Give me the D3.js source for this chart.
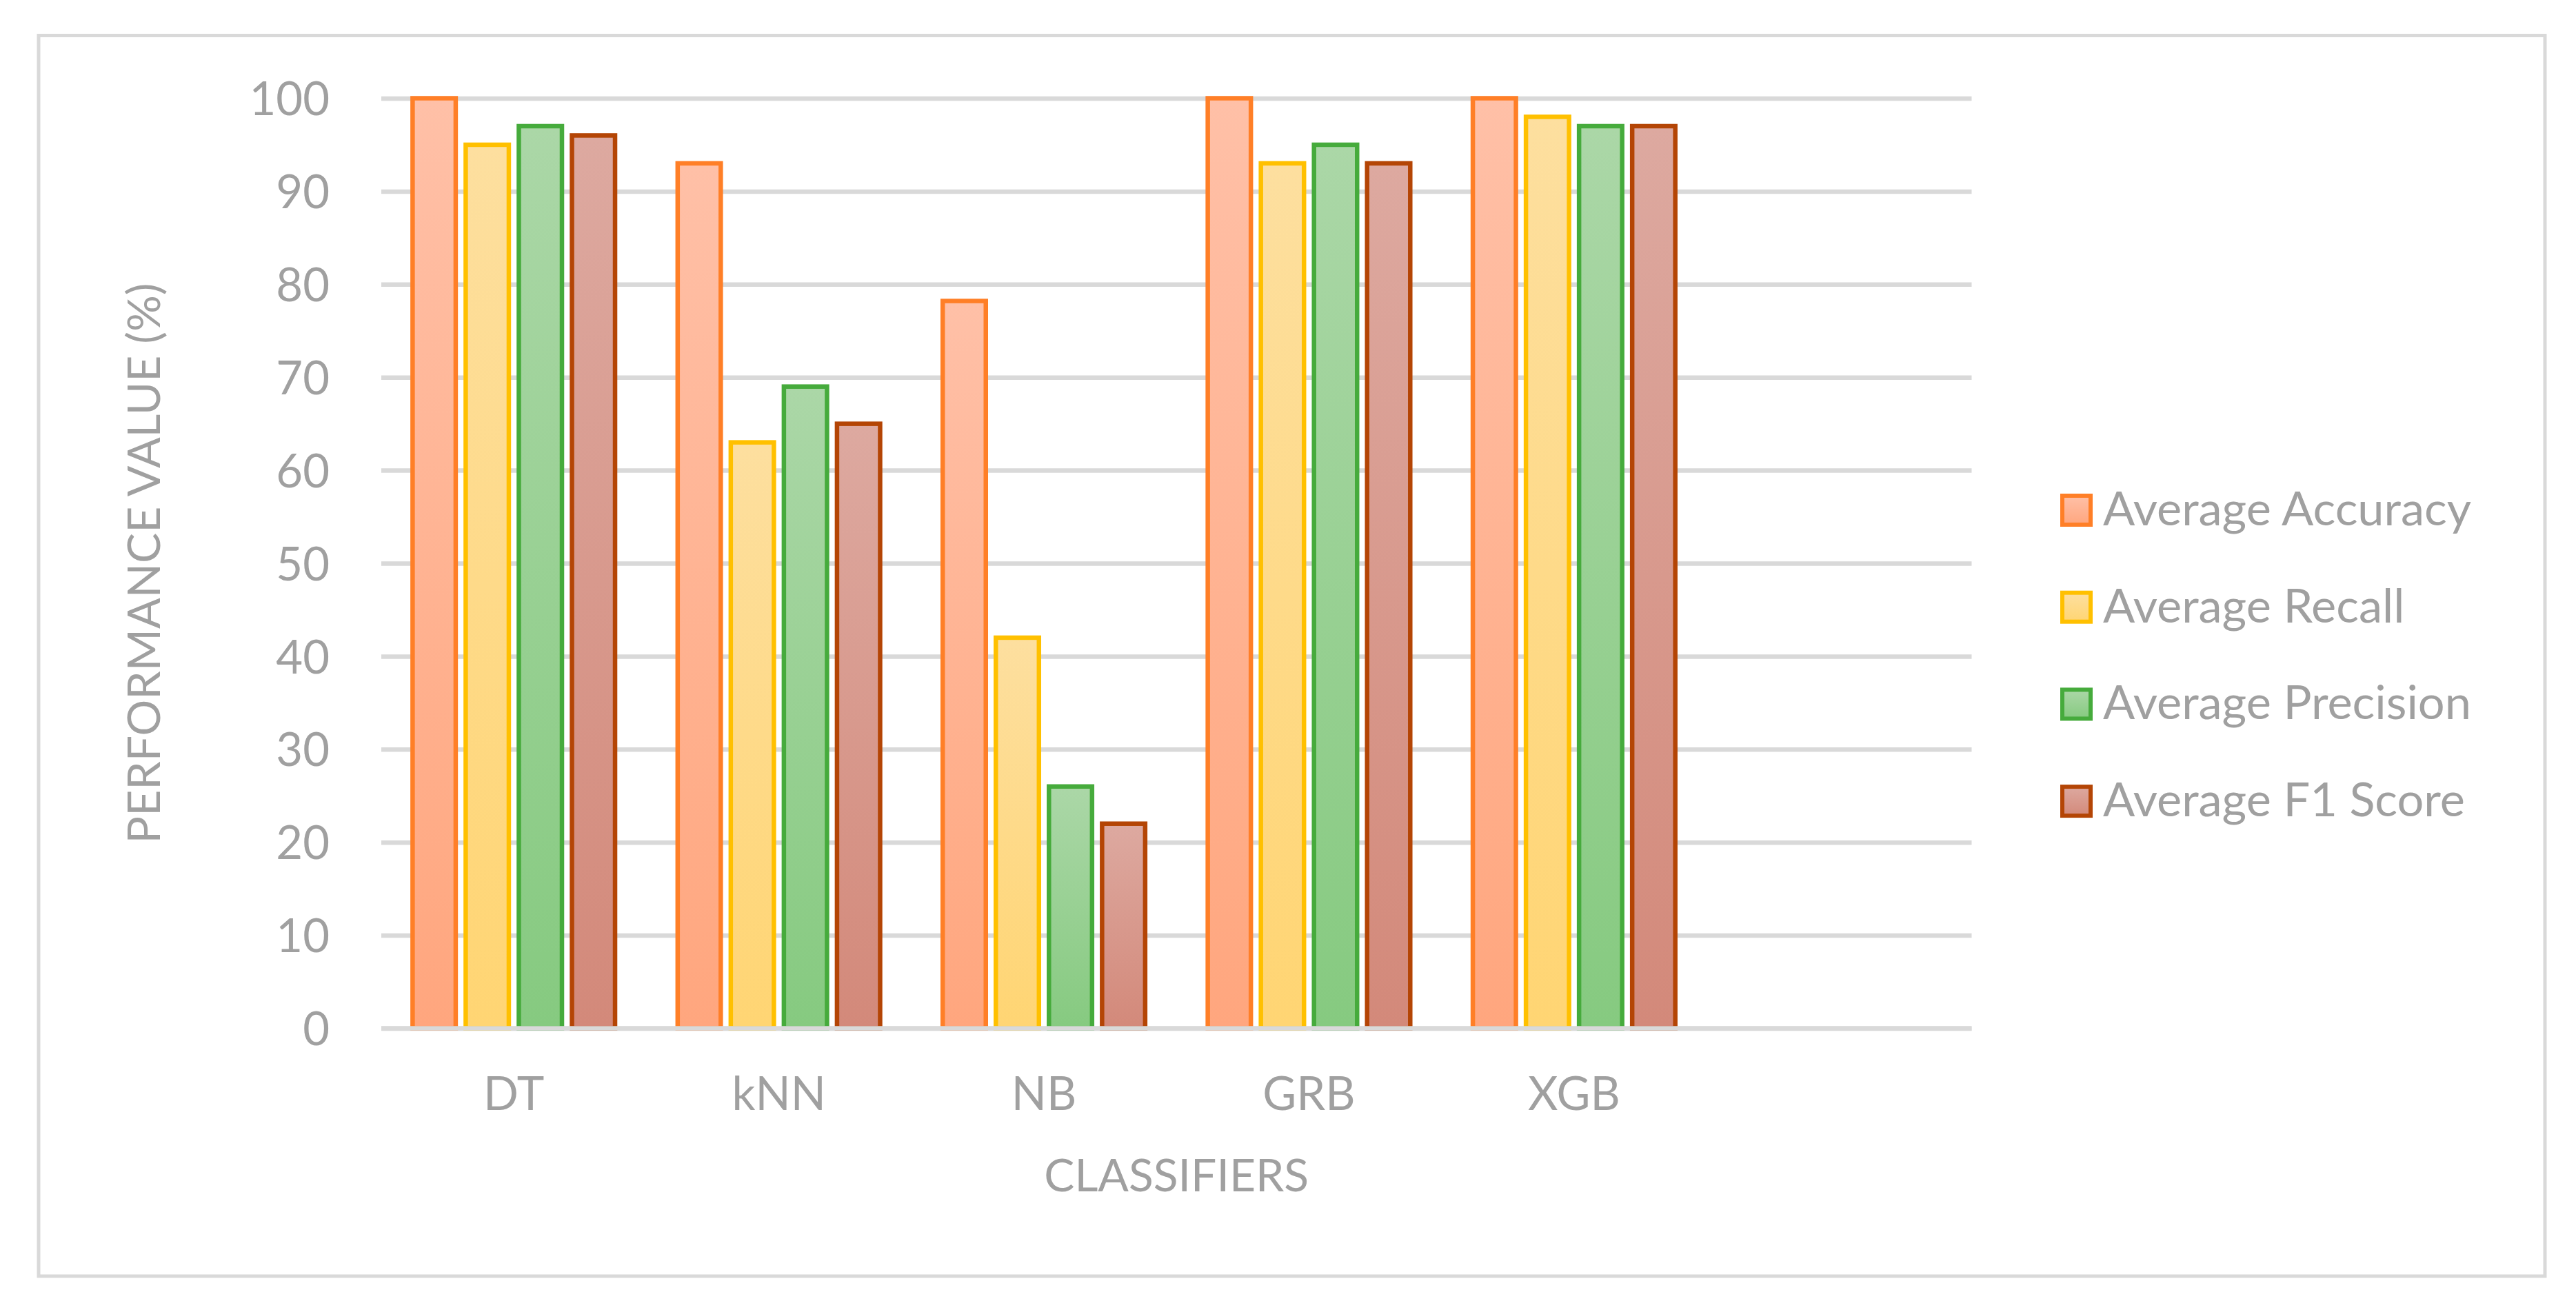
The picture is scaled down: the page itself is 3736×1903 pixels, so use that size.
<!DOCTYPE html>
<html>
<head>
<meta charset="utf-8">
<script src="https://cdn.jsdelivr.net/npm/d3@7"></script>
<style>
  html, body { margin: 0; padding: 0; background: #ffffff; }
  svg { display: block; }
  text { font-family: Lato, "Open Sans", "DejaVu Sans", sans-serif; fill: #a0a0a0; }
</style>
</head>
<body>
<script>
// ---- data ----
const categories = ["DT", "kNN", "NB", "GRB", "XGB", ""];
const seriesNames = ["Average Accuracy", "Average Recall", "Average Precision", "Average F1 Score"];
const accuracy  = [100, 93, 78.2, 100, 100];
const recall    = [95, 63, 42, 93, 98];
const precision = [97, 69, 26, 95, 97];
const f1score   = [96, 65, 22, 93, 97];
const yTicks = [0, 10, 20, 30, 40, 50, 60, 70, 80, 90, 100];
const yTitle = "PERFORMANCE VALUE (%)";
const xTitle = "CLASSIFIERS";

// ---- style ----
const strokeColors = ["#ff7f27", "#ffc000", "#46ab3c", "#b44505"];
const fillTop      = ["#ffc0a7", "#fddf9f", "#abd7a7", "#dda9a0"];
const fillBottom   = ["#ffa67e", "#ffd573", "#86ca80", "#d3897a"];

const W = 3736, H = 1903;
const plot = { left: 553, right: 2859.5, top: 142.5, bottom: 1491.5 };

const seriesValues = [accuracy, recall, precision, f1score];

const svg = d3.select("body").append("svg")
  .attr("width", W).attr("height", H);

const defs = svg.append("defs");
seriesNames.forEach((s, i) => {
  const g = defs.append("linearGradient")
    .attr("id", "grad" + i)
    .attr("x1", 0).attr("y1", 0).attr("x2", 0).attr("y2", 1);
  g.append("stop").attr("offset", "0%").attr("stop-color", fillTop[i]);
  g.append("stop").attr("offset", "100%").attr("stop-color", fillBottom[i]);
});

// outer border
svg.append("rect")
  .attr("x", 56).attr("y", 51.5)
  .attr("width", 3691 - 56).attr("height", 1851 - 51.5)
  .attr("fill", "none").attr("stroke", "#d9d9d9").attr("stroke-width", 5);

// scales
const x0 = d3.scaleBand()
  .domain(categories.map((c, i) => i))
  .range([plot.left, plot.right])
  .paddingInner(0).paddingOuter(0);

const x1 = d3.scaleBand()
  .domain(seriesNames.map((s, i) => i))
  .range([0, x0.bandwidth()])
  .paddingInner(0.104).paddingOuter(0.547);

const y = d3.scaleLinear().domain([0, 100]).range([plot.bottom, plot.top]);

// gridlines + y tick labels
const yAxis = d3.axisLeft(y)
  .tickValues(yTicks)
  .tickSize(-(plot.right - plot.left))
  .tickPadding(75)
  .tickFormat(d3.format("d"));

const gy = svg.append("g")
  .attr("transform", `translate(${plot.left},0)`)
  .call(yAxis);
gy.select(".domain").remove();
gy.selectAll(".tick line").attr("stroke", "#d9d9d9").attr("stroke-width", 6.5);
gy.selectAll(".tick text")
  .attr("fill", "#a0a0a0")
  .style("font-size", "67px")
  .attr("dy", "0.36em");

// bars
const bw = x1.bandwidth();
const sw = 6.5;
const groups = svg.append("g").selectAll("g")
  .data(categories.slice(0, accuracy.length).map((c, ci) => ({ ci, vals: seriesValues.map(a => a[ci]) })))
  .join("g")
  .attr("transform", d => `translate(${x0(d.ci)},0)`);

groups.selectAll("rect")
  .data(d => d.vals.map((v, si) => ({ v, si })))
  .join("rect")
  .attr("x", d => x1(d.si) + sw / 2)
  .attr("width", bw - sw)
  .attr("y", d => y(d.v))
  .attr("height", d => y(0) - y(d.v))
  .attr("fill", d => `url(#grad${d.si})`)
  .attr("stroke", d => strokeColors[d.si])
  .attr("stroke-width", sw);

// zero line on top of bars
svg.append("line")
  .attr("x1", plot.left).attr("x2", plot.right)
  .attr("y1", y(0)).attr("y2", y(0))
  .attr("stroke", "#d9d9d9").attr("stroke-width", 6.5);

// x axis labels
const xAxis = d3.axisBottom(x0).tickSize(0).tickFormat(i => categories[i]);
const gx = svg.append("g")
  .attr("transform", `translate(0,${plot.bottom})`)
  .call(xAxis);
gx.select(".domain").remove();
gx.selectAll(".tick text")
  .attr("y", 1610 - plot.bottom).attr("dy", 0)
  .attr("fill", "#a0a0a0")
  .style("font-size", "67px");

// axis titles
svg.append("text")
  .attr("x", (plot.left + plot.right) / 2).attr("y", 1728)
  .attr("text-anchor", "middle")
  .style("font-size", "66px")
  .text(xTitle);

svg.append("text")
  .attr("transform", `translate(232,${(plot.top + plot.bottom) / 2}) rotate(-90)`)
  .attr("text-anchor", "middle")
  .style("font-size", "66px")
  .text(yTitle);

// legend
const legend = svg.append("g").selectAll("g")
  .data(seriesNames)
  .join("g")
  .attr("transform", (d, i) => `translate(2988,${716 + i * 140.7})`);

legend.append("rect")
  .attr("x", 3).attr("y", 3)
  .attr("width", 41).attr("height", 42)
  .attr("fill", (d, i) => `url(#grad${i})`)
  .attr("stroke", (d, i) => strokeColors[i])
  .attr("stroke-width", 6);

legend.append("text")
  .attr("x", 62).attr("y", 46)
  .style("font-size", "68.5px")
  .text(d => d);
</script>
</body>
</html>
